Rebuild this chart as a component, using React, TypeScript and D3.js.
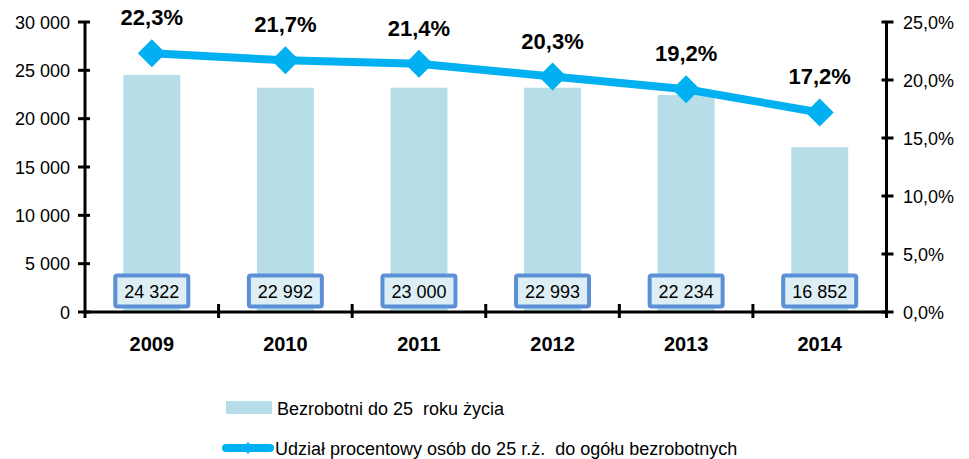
import React from "react";
import * as d3 from "d3";

const years = ["2009", "2010", "2011", "2012", "2013", "2014"];
const unemployed = [24322, 22992, 23000, 22993, 22234, 16852];
const share = [22.3, 21.7, 21.4, 20.3, 19.2, 17.2];
const leftTicks = [0, 5000, 10000, 15000, 20000, 25000, 30000];
const rightTicks = [0, 5, 10, 15, 20, 25];
const barLegend = "Bezrobotni do 25  roku życia";
const lineLegend = "Udział procentowy osób do 25 r.ż.  do ogółu bezrobotnych";

const W = 969, H = 459;
const left = 85, right = 886.5, top = 22, bottom = 312;
const font = "Liberation Sans, Arial, sans-serif";

const fmtThousands = (v: number) => d3.format(",")(v).replace(/,/g, " ");
const fmtPct = (v: number) => v.toFixed(1).replace(".", ",") + "%";

export default function App() {
  const x = d3.scaleBand<string>().domain(years).range([left, right]);
  const yL = d3.scaleLinear().domain([0, 30000]).range([bottom, top]);
  const yR = d3.scaleLinear().domain([0, 25]).range([bottom, top]);
  const bw = 57;
  const cx = (y: string) => (x(y) as number) + x.bandwidth() / 2;
  const line = d3.line<number>().x((_, i) => cx(years[i])).y((d) => yR(d));
  const diamond = (px: number, py: number, r: number) =>
    `M${px},${py - r}L${px + r},${py}L${px},${py + r}L${px - r},${py}Z`;

  return (
    <svg width={W} height={H} style={{ position: "absolute", left: 0, top: 0 }} fontFamily={font}>
      <rect width={W} height={H} fill="#fff" />
      {years.map((yr, i) => (
        <rect key={yr} x={cx(yr) - bw / 2} y={yL(unemployed[i]) - 2} width={bw} height={bottom - yL(unemployed[i]) + 2} fill="#B7DDE8" />
      ))}
      {/* left axis */}
      <line x1={left} x2={left} y1={top} y2={bottom + 6} stroke="#000" strokeWidth={3} />
      {leftTicks.map((t) => (
        <g key={t}>
          <line x1={left - 7} x2={left + 5} y1={yL(t)} y2={yL(t)} stroke="#000" strokeWidth={3} />
          <text x={70} y={yL(t) + 6.5} textAnchor="end" fontSize={18} fill="#000">{fmtThousands(t)}</text>
        </g>
      ))}
      {/* right axis */}
      <line x1={right} x2={right} y1={top} y2={bottom + 6} stroke="#000" strokeWidth={3} />
      {rightTicks.map((t) => (
        <g key={t}>
          <line x1={right - 5} x2={right + 7} y1={yR(t)} y2={yR(t)} stroke="#000" strokeWidth={3} />
          <text x={903} y={yR(t) + 6.5} textAnchor="start" fontSize={18} fill="#000">{fmtPct(t)}</text>
        </g>
      ))}
      {/* x axis */}
      <line x1={left} x2={right} y1={bottom} y2={bottom} stroke="#000" strokeWidth={3} />
      {years.slice(1).map((yr) => (
        <line key={yr} x1={x(yr) as number} x2={x(yr) as number} y1={bottom - 8} y2={bottom + 6} stroke="#000" strokeWidth={3} />
      ))}
      {years.map((yr) => (
        <text key={yr} x={cx(yr)} y={351} textAnchor="middle" fontSize={20} fontWeight="bold" fill="#000">{yr}</text>
      ))}
      {/* value boxes */}
      {years.map((yr, i) => (
        <g key={yr}>
          <rect x={cx(yr) - 36.5} y={275.5} width={73} height={31} rx={2} fill="#DDEEF5" stroke="#5B8FD6" strokeWidth={4} />
          <text x={cx(yr)} y={297.5} textAnchor="middle" fontSize={18} fill="#000">{fmtThousands(unemployed[i])}</text>
        </g>
      ))}
      {/* line */}
      <path d={line(share) || ""} fill="none" stroke="#00B0F0" strokeWidth={8} strokeLinejoin="round" />
      {share.map((v, i) => (
        <g key={i}>
          <path d={diamond(cx(years[i]), yR(v), 14)} fill="#00B0F0" />
          <text x={cx(years[i])} y={yR(v) - 28} textAnchor="middle" fontSize={22} fontWeight="bold" fill="#000">{fmtPct(v)}</text>
        </g>
      ))}
      {/* legend */}
      <rect x={226} y={401} width={46} height={13} fill="#B7DDE8" />
      <text x={277} y={415} fontSize={18} fill="#000" style={{ whiteSpace: "pre" }}>{barLegend}</text>
      <line x1={226} x2={270} y1={448} y2={448} stroke="#00B0F0" strokeWidth={8} strokeLinecap="round" />
      <path d={diamond(248, 448, 6)} fill="#00B0F0" />
      <text x={275} y={455} fontSize={18} fill="#000" style={{ whiteSpace: "pre" }}>{lineLegend}</text>
    </svg>
  );
}
